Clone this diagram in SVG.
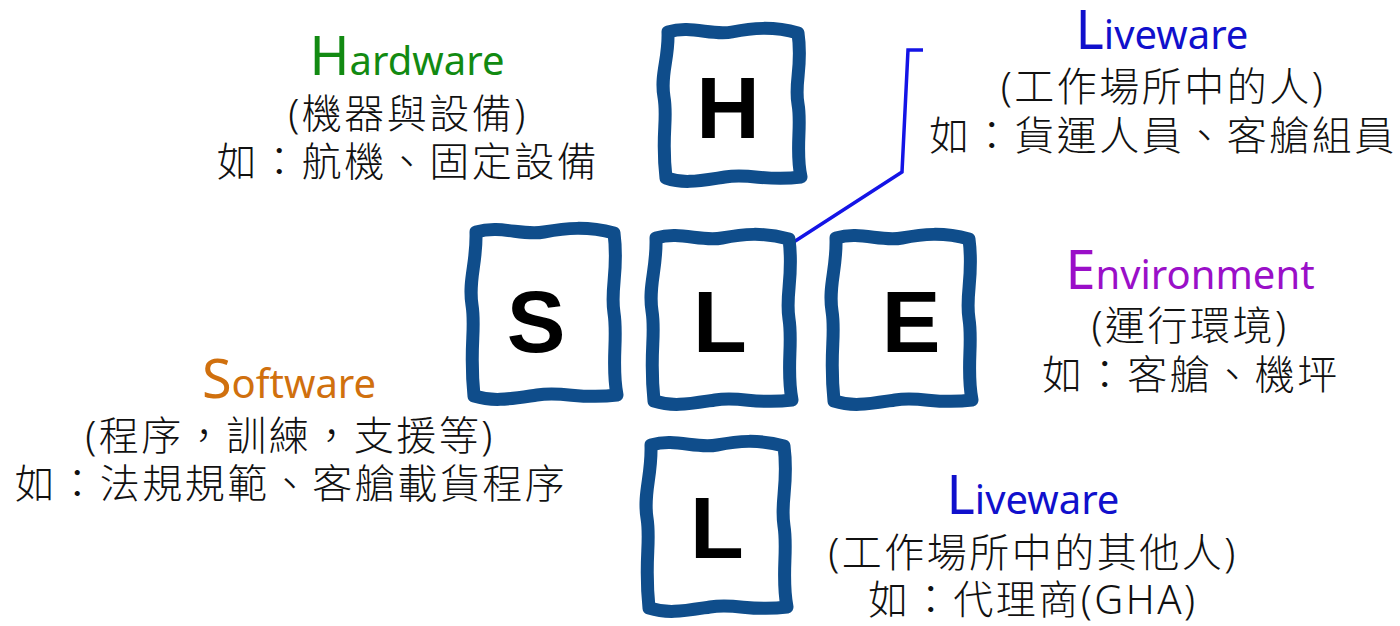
<svg xmlns="http://www.w3.org/2000/svg" width="1400" height="626" viewBox="0 0 1400 626">
<style>
.box{fill:#ffffff;stroke:#0f4d8b;stroke-width:13;stroke-linejoin:round;stroke-linecap:round}
.let{font-family:"Liberation Sans",Arial,sans-serif;font-weight:bold;font-size:88px;fill:#000;text-anchor:middle}
.lbl{font-family:"Noto Sans","Noto Sans CJK TC",sans-serif;font-size:40px;text-anchor:middle;font-weight:400}
.cjk{font-family:"Noto Sans","Noto Sans CJK TC",sans-serif;font-size:40px;letter-spacing:2.5px;text-anchor:middle;fill:#111;font-weight:300}
.cap{font-size:54px;font-weight:400}
.conn{fill:none;stroke:#1414e6;stroke-width:3.5;stroke-linejoin:miter}
</style>
<defs>
<path id="wavyL" d="M 656 238 C 680 231, 701 242, 722 238 S 763 232, 789 239 C 794 277, 785 294, 789 319 S 786 369, 792 400 C 756 405, 742 396, 715 400 S 673 407, 654 401 C 649 353, 656 336, 652 311 S 657 269, 656 238 Z"/>
</defs>
<rect width="1400" height="626" fill="#ffffff"/>
<g id="connectors">
<polyline class="conn" points="786,247 902,172 908,50 923,50"/>
</g>
<g id="node-H">
<path class="box" d="M 668 32 C 691 25, 712 36, 732 32 S 773 26, 798 33 C 803 67, 794 82, 798 104 S 795 150, 801 177 C 766 182, 752 173, 725 177 S 684 184, 666 178 C 661 135, 668 120, 664 97 S 669 59, 668 32 Z"/>
<text class="let" x="728" y="138">H</text>
</g>
<g id="node-S">
<path class="box" d="M 476 232 C 501 225, 522 236, 544 232 S 587 226, 614 233 C 619 271, 610 288, 614 313 S 611 364, 617 395 C 580 400, 565 391, 537 395 S 494 402, 474 396 C 469 347, 476 330, 472 305 S 477 263, 476 232 Z"/>
<text class="let" x="536" y="352">S</text>
</g>
<g id="node-L-center">
<use href="#wavyL" class="box"/>
<text class="let" x="720" y="352">L</text>
</g>
<g id="node-E">
<use href="#wavyL" class="box" transform="translate(180,0)"/>
<text class="let" x="911" y="352">E</text>
</g>
<g id="node-L-bottom">
<use href="#wavyL" class="box" transform="translate(-5,207)"/>
<text class="let" x="717" y="558">L</text>
</g>
<g id="label-hardware">
<text class="lbl" x="407" y="75" style="fill:#128a12"><tspan class="cap">H</tspan>ardware</text>
<text class="cjk" x="408" y="128">(機器與設備)</text>
<text class="cjk" x="408" y="176">如：航機、固定設備</text>
</g>
<g id="label-liveware-top">
<text class="lbl" x="1162" y="49" style="fill:#1010cc"><tspan class="cap">L</tspan>iveware</text>
<text class="cjk" x="1163" y="101">(工作場所中的人)</text>
<text class="cjk" x="1163" y="150">如：貨運人員、客艙組員</text>
</g>
<g id="label-environment">
<text class="lbl" x="1190" y="289" style="fill:#9a0fc8"><tspan class="cap">E</tspan>nvironment</text>
<text class="cjk" x="1190" y="340">(運行環境)</text>
<text class="cjk" x="1191" y="389">如：客艙、機坪</text>
</g>
<g id="label-software">
<text class="lbl" x="289" y="398" style="fill:#d0700e"><tspan class="cap">S</tspan>oftware</text>
<text class="cjk" x="290" y="450">(程序，訓練，支援等)</text>
<text class="cjk" x="291" y="498">如：法規規範、客艙載貨程序</text>
</g>
<g id="label-liveware-bottom">
<text class="lbl" x="1033" y="514" style="fill:#1010cc"><tspan class="cap">L</tspan>iveware</text>
<text class="cjk" x="1033" y="567">(工作場所中的其他人)</text>
<text class="cjk" x="1033" y="614">如：代理商(GHA)</text>
</g>
</svg>
